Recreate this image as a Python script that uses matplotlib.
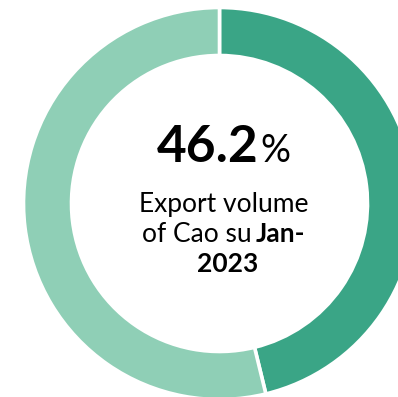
import matplotlib
matplotlib.use("Agg")
import matplotlib.pyplot as plt

# Data
labels = ["Cao su", "Other"]
shares = [46.2, 53.8]
colors = ["#3aa586", "#8fcfb6"]
value_text = "46.2"
line1 = "Export volume"
line2_regular = "of Cao su"
line2_bold = "Jan-"
line3 = "2023"

W, H = 398, 397
fig = plt.figure(figsize=(W / 100, H / 100), dpi=100)
ax = fig.add_axes([0, 0, 1, 1])
ax.set_xlim(0, W)
ax.set_ylim(0, H)
ax.set_aspect("equal")
ax.axis("off")

cx, cy = 219.5, H - 203.5
R = 196
ring = 48
ax.pie(shares, colors=colors, startangle=90, counterclock=False,
       center=(cx, cy), radius=R,
       wedgeprops=dict(width=ring, edgecolor="white", linewidth=2.6))
ax.set_xlim(0, W)
ax.set_ylim(0, H)

fam = ["Lato", "DejaVu Sans"]
ax.text(259, H - 161.7, value_text, ha="right", va="baseline",
        fontsize=37, fontweight="bold", family=fam, color="black")
ax.text(260, H - 161.7, "%", ha="left", va="baseline",
        fontsize=27, family=fam, color="black")
ax.text(224, H - 211.7, line1, ha="center", va="baseline",
        fontsize=19, family=fam, color="black")
ax.text(251.5, H - 241.7, line2_regular, ha="right", va="baseline",
        fontsize=19, family=fam, color="black")
ax.text(256, H - 241.7, line2_bold, ha="left", va="baseline",
        fontsize=19, fontweight="bold", family=fam, color="black")
ax.text(228, H - 271.7, line3, ha="center", va="baseline",
        fontsize=19, fontweight="bold", family=fam, color="black")

fig.savefig("out.png", dpi=100)
